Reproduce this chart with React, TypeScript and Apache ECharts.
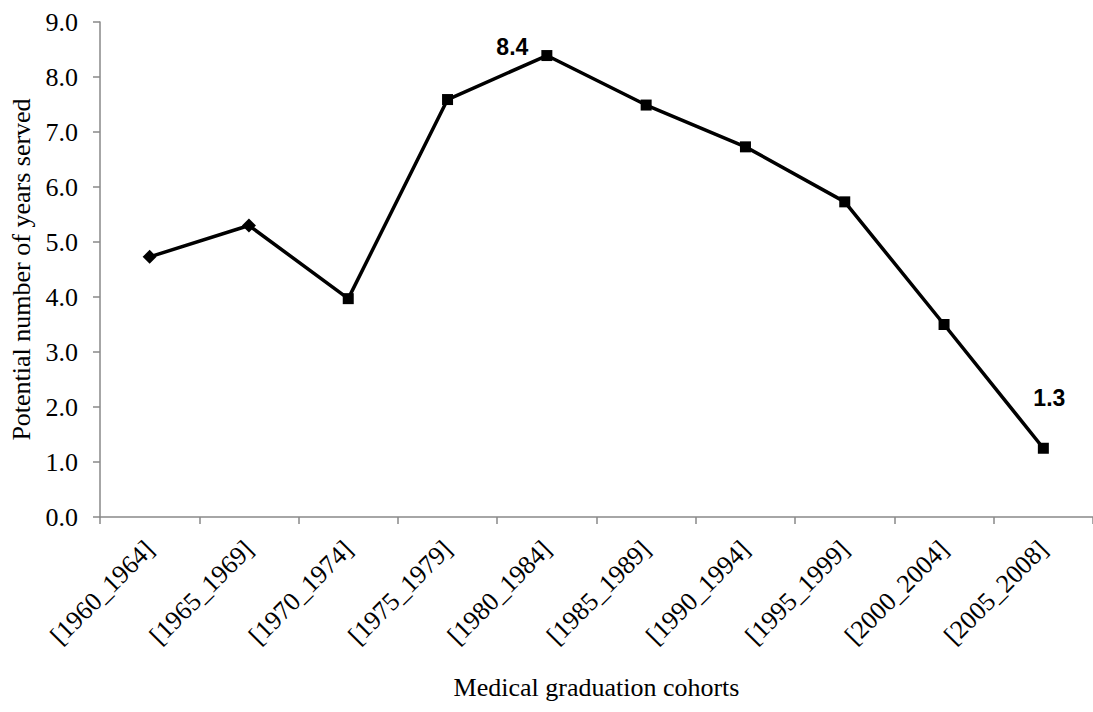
import React, { useEffect, useRef } from "react";
import * as echarts from "echarts";

const categories = [
  "[1960_1964]",
  "[1965_1969]",
  "[1970_1974]",
  "[1975_1979]",
  "[1980_1984]",
  "[1985_1989]",
  "[1990_1994]",
  "[1995_1999]",
  "[2000_2004]",
  "[2005_2008]",
];
const values = [4.73, 5.3, 3.97, 7.59, 8.39, 7.49, 6.73, 5.73, 3.5, 1.25];
const symbols = ["diamond", "diamond", "rect", "rect", "rect", "rect", "rect", "rect", "rect", "rect"];
const labelledIndex = { peak: 4, last: 9 };
const labelTexts = ["8.4", "1.3"];

export default function App() {
  const ref = useRef<HTMLDivElement>(null);
  useEffect(() => {
    if (!ref.current) return;
    const chart = echarts.init(ref.current, null, { renderer: "svg" });
    const serif = "'Liberation Serif', 'Times New Roman', serif";
    const labelStyle = {
      fontFamily: "'Liberation Sans', Arial, sans-serif",
      fontWeight: "bold" as const,
      fontSize: 23,
      color: "#000",
    };
    const data = values.map((v, i) => {
      const item: any = {
        value: v,
        symbol: symbols[i],
        symbolSize: symbols[i] === "diamond" ? 14 : 11,
      };
      if (i === labelledIndex.peak) {
        item.label = {
          show: true,
          position: "left",
          distance: 13,
          offset: [0, -9],
          formatter: labelTexts[0],
          ...labelStyle,
        };
      } else if (i === labelledIndex.last) {
        item.label = {
          show: true,
          position: "inside",
          offset: [6, -50],
          formatter: labelTexts[1],
          ...labelStyle,
        };
      }
      return item;
    });
    chart.setOption({
      animation: false,
      backgroundColor: "#fff",
      grid: { left: 98, top: 22, width: 1002, height: 495, containLabel: false },
      xAxis: {
        type: "category",
        data: categories,
        boundaryGap: true,
        name: "Medical graduation cohorts",
        nameLocation: "middle",
        nameGap: 157,
        nameTextStyle: { fontFamily: serif, fontSize: 26, color: "#000" },
        axisLine: { lineStyle: { color: "#898989", width: 1.5 } },
        axisTick: { show: true, length: 7, lineStyle: { color: "#898989", width: 1.5 } },
        axisLabel: {
          rotate: 45,
          margin: 28,
          fontFamily: serif,
          fontSize: 26,
          color: "#000",
          interval: 0,
        },
        splitLine: { show: false },
      },
      yAxis: {
        type: "value",
        min: 0,
        max: 9,
        interval: 1,
        name: "Potential number of years served",
        nameLocation: "middle",
        nameGap: 66,
        nameTextStyle: { fontFamily: serif, fontSize: 26, color: "#000" },
        axisLine: { show: true, lineStyle: { color: "#898989", width: 1.5 } },
        axisTick: { show: true, length: 7, lineStyle: { color: "#898989", width: 1.5 } },
        axisLabel: {
          formatter: (v: number) => v.toFixed(1),
          margin: 22,
          fontFamily: serif,
          fontSize: 26,
          color: "#000",
        },
        splitLine: { show: false },
      },
      series: [
        {
          type: "line",
          data,
          lineStyle: { color: "#000", width: 3.5 },
          itemStyle: { color: "#000" },
          label: { show: false },
        },
      ],
    });
    return () => chart.dispose();
  }, []);
  return (
    <div
      ref={ref}
      style={{ position: "fixed", left: 0, top: 0, width: 1093, height: 712, background: "#fff" }}
    />
  );
}
